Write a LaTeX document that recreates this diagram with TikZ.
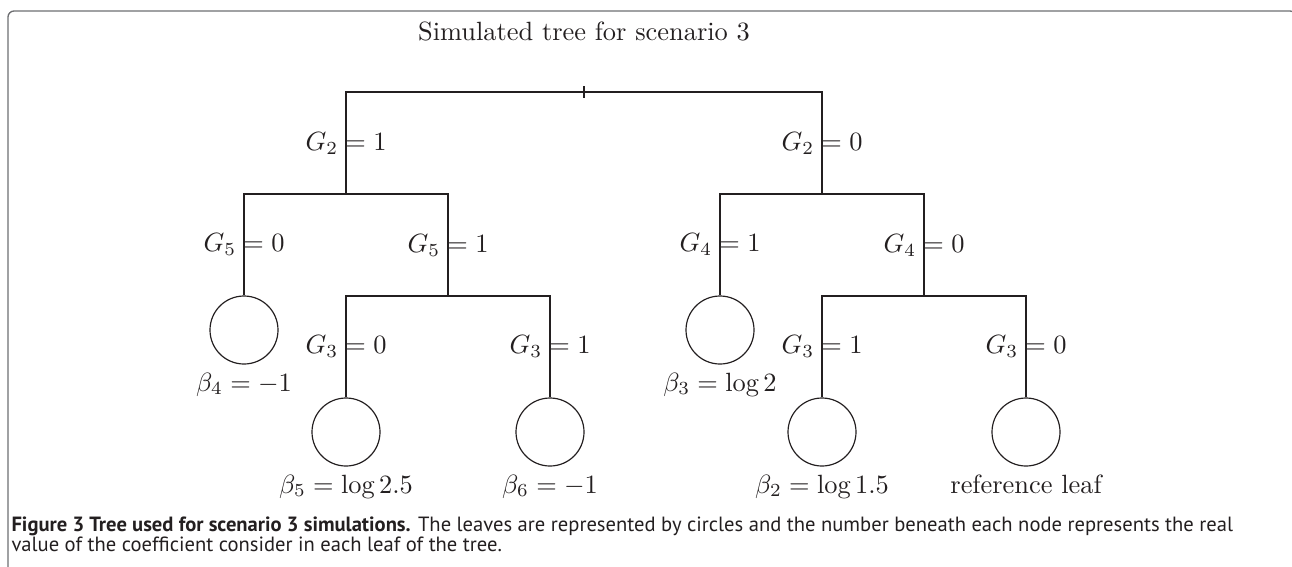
\documentclass[tikz,border=0pt]{standalone}
\usepackage{fontspec}
\newfontfamily\capfont{PT Sans}
\definecolor{ink}{HTML}{231F20}
\definecolor{framegray}{HTML}{6D6E71}
\begin{document}
\begin{tikzpicture}[x=0.3788pt,y=-0.3788pt,
  branch/.style={draw=ink,line width=0.85pt},
  leaf/.style={circle,draw=ink,line width=0.45pt,minimum size=25.76pt,inner sep=0pt},
  lab/.style={text=ink,inner sep=0pt,pos=0.75},
  val/.style={text=ink,anchor=base,inner sep=0pt},
  capline/.style={text=ink,anchor=base west,inner sep=0pt,font=\capfont\fontsize{7.8}{9}\selectfont}
]
\useasboundingbox (0,0) rectangle (1292,566);
\begin{scope}
  \clip (0,0) rectangle (1292,566);
  \draw[framegray,line width=0.5pt,rounded corners=2.3pt] (8,11) rectangle (1296,640);
\end{scope}

\node[val] (title) at (584,40) {Simulated tree for scenario 3};

\coordinate (a) at (584,92);
\coordinate (b) at (346,194);
\coordinate (c) at (822,194);
\coordinate (d) at (448,296);
\coordinate (e) at (924,296);

\node[leaf] (l4) at (244,330) {};
\node[leaf] (l3) at (720,330) {};
\node[leaf] (l5) at (346,432) {};
\node[leaf] (l6) at (550,432) {};
\node[leaf] (l2) at (822,432) {};
\node[leaf] (lr) at (1026,432) {};

\draw[branch] ([yshift=2.27pt]a) -- ([yshift=-2.27pt]a);
\draw[branch] (a) -| node[lab]{$G_2=1$} (b);
\draw[branch] (a) -| node[lab]{$G_2=0$} (c);
\draw[branch] (b) -| node[lab]{$G_5=0$} (l4.north);
\draw[branch] (b) -| node[lab]{$G_5=1$} (d);
\draw[branch] (c) -| node[lab]{$G_4=1$} (l3.north);
\draw[branch] (c) -| node[lab]{$G_4=0$} (e);
\draw[branch] (d) -| node[lab]{$G_3=0$} (l5.north);
\draw[branch] (d) -| node[lab]{$G_3=1$} (l6.north);
\draw[branch] (e) -| node[lab]{$G_3=1$} (l2.north);
\draw[branch] (e) -| node[lab]{$G_3=0$} (lr.north);

\node[val] (v4) at (244,391) {$\beta_4=-1$};
\node[val] (v3) at (720,391) {$\beta_3=\log 2$};
\node[val] (v5) at (346,493) {$\beta_5=\log 2.5$};
\node[val] (v6) at (550,493) {$\beta_6=-1$};
\node[val] (v2) at (822,493) {$\beta_2=\log 1.5$};
\node[val] (vr) at (1026,493) {reference leaf};

\node[capline] (cap1) at (11,531) {\textbf{Figure 3 Tree used for scenario 3 simulations.} The leaves are represented by circles and the number beneath each node represents the real};
\node[capline] (cap2) at (11,551) {value of the coefficient consider in each leaf of the tree.};
\end{tikzpicture}
\end{document}
